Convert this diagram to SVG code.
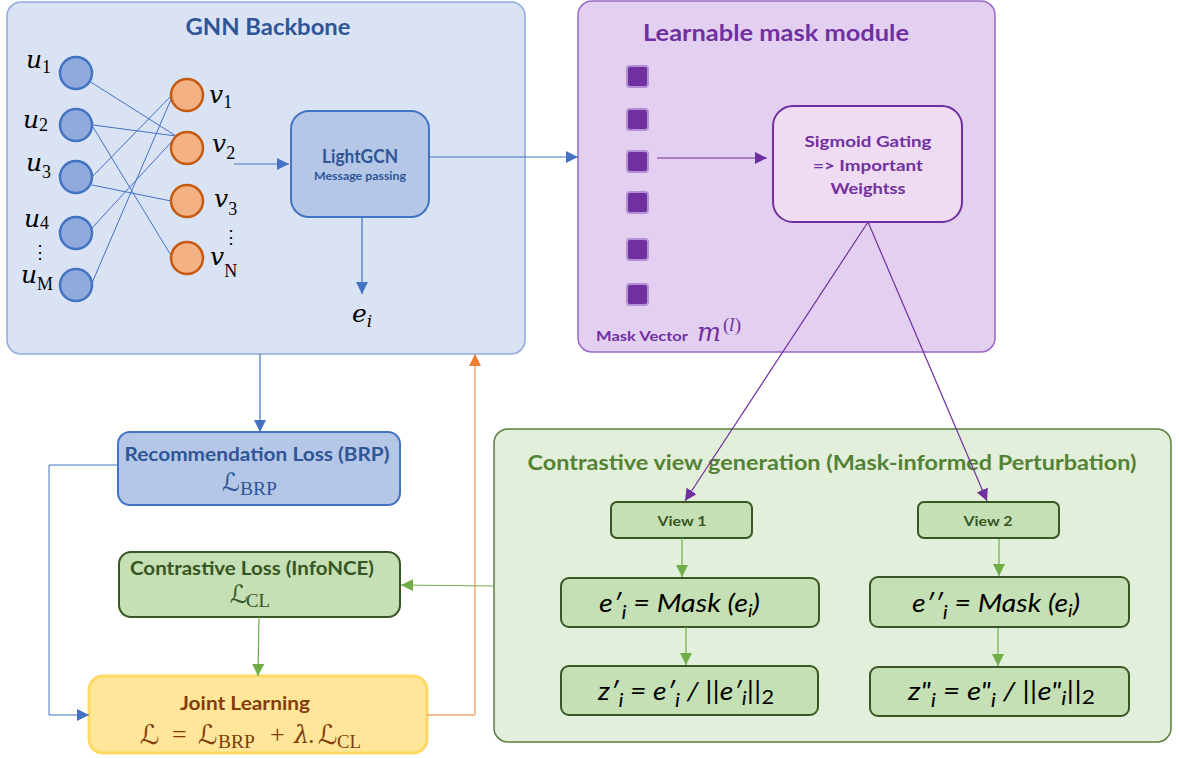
<svg xmlns="http://www.w3.org/2000/svg" width="1179" height="758" viewBox="0 0 1179 758">
<style>
.t{font-family:Lato,"Open Sans",sans-serif;font-weight:bold}
.m{font-family:"DejaVu Serif",serif;font-style:italic}
.up{font-family:"Liberation Serif",serif;font-style:normal}
.L{font-family:"DejaVu Serif","DejaVu Sans",serif}
.fm{font-family:Lato,"Open Sans",sans-serif;font-style:italic;font-size:26px;fill:#000}
.u{fill:#8faadc;stroke:#4472c4;stroke-width:2.5}
.v{fill:#f4b183;stroke:#c55a11;stroke-width:2.5}
.sq{fill:#7030a0;stroke:#b48fd8;stroke-width:2}
.gb{fill:#c5e0b4;stroke:#385723;stroke-width:2}
.e{fill:none;stroke:#4472c4;stroke-width:1}
</style>
<defs>
<marker id="ab" markerUnits="userSpaceOnUse" markerWidth="13" markerHeight="12" refX="12" refY="6" orient="auto"><path d="M0,0 L12,6 L0,12 z" fill="#4472c4"/></marker>
<marker id="ap" markerUnits="userSpaceOnUse" markerWidth="13" markerHeight="12" refX="12" refY="6" orient="auto"><path d="M0,0 L12,6 L0,12 z" fill="#7030a0"/></marker>
<marker id="ag" markerUnits="userSpaceOnUse" markerWidth="13" markerHeight="12" refX="12" refY="6" orient="auto"><path d="M0,0 L12,6 L0,12 z" fill="#70ad47"/></marker>
<marker id="ao" markerUnits="userSpaceOnUse" markerWidth="13" markerHeight="12" refX="12" refY="6" orient="auto"><path d="M0,0 L12,6 L0,12 z" fill="#ed7d31"/></marker>
</defs>

<g id="gnn-backbone">
<rect x="7" y="2" width="518" height="352" rx="14" fill="#dae3f3" stroke="#8faadc" stroke-width="1.5"/>
<text class="t" x="268" y="35" text-anchor="middle" font-size="22" fill="#2f5597" textLength="165" lengthAdjust="spacingAndGlyphs">GNN Backbone</text>
</g>

<g id="bipartite-edges">
<line class="e" x1="86" y1="79" x2="176" y2="136"/>
<line class="e" x1="93" y1="125" x2="176" y2="136"/>
<line class="e" x1="93" y1="127" x2="172" y2="257"/>
<line class="e" x1="92" y1="177" x2="172" y2="95"/>
<line class="e" x1="92" y1="185" x2="171" y2="201"/>
<line class="e" x1="92" y1="228" x2="176" y2="137"/>
<line class="e" x1="92" y1="283" x2="172" y2="97"/>
</g>

<g id="user-nodes">
<circle class="u" cx="76" cy="73" r="16"/>
<circle class="u" cx="76" cy="125" r="16"/>
<circle class="u" cx="76" cy="177" r="16"/>
<circle class="u" cx="76" cy="233" r="16"/>
<circle class="u" cx="76" cy="285" r="16"/>
<text class="m" x="26" y="68" font-size="25">u<tspan class="up" font-size="18" dy="5">1</tspan></text>
<text class="m" x="23" y="128" font-size="25">u<tspan class="up" font-size="18" dy="3">2</tspan></text>
<text class="m" x="26" y="171" font-size="25">u<tspan class="up" font-size="18" dy="7">3</tspan></text>
<text class="m" x="24" y="227" font-size="25">u<tspan class="up" font-size="18" dy="2">4</tspan></text>
<text class="up" x="31" y="258" font-size="18">⋮</text>
<text class="m" x="21" y="283" font-size="25">u<tspan class="up" font-size="18" dy="7">M</tspan></text>
</g>

<g id="item-nodes">
<circle class="v" cx="187" cy="95" r="16"/>
<circle class="v" cx="187" cy="148" r="16"/>
<circle class="v" cx="187" cy="201" r="16"/>
<circle class="v" cx="187" cy="258" r="16"/>
<text class="m" x="209" y="103" font-size="25">v<tspan class="up" font-size="18" dy="5">1</tspan></text>
<text class="m" x="212" y="152" font-size="25">v<tspan class="up" font-size="18" dy="7">2</tspan></text>
<text class="m" x="214" y="207" font-size="25">v<tspan class="up" font-size="18" dy="8">3</tspan></text>
<text class="up" x="222" y="243" font-size="18">⋮</text>
<text class="m" x="210" y="265" font-size="25">v<tspan class="up" font-size="18" dy="12">N</tspan></text>
</g>

<g id="lightgcn">
<rect x="291" y="111" width="138" height="106" rx="18" fill="#b4c7e7" stroke="#4472c4" stroke-width="2"/>
<text class="t" x="360" y="163" text-anchor="middle" font-size="18" fill="#2f5597" textLength="76" lengthAdjust="spacingAndGlyphs">LightGCN</text>
<text class="t" x="360" y="180" text-anchor="middle" font-size="11" fill="#2f5597" textLength="92" lengthAdjust="spacingAndGlyphs">Message passing</text>
</g>

<g id="embedding-ei">
<text class="m" x="352" y="322" font-size="25">e<tspan class="m" font-size="17" dy="5">i</tspan></text>
</g>

<g id="learnable-mask-module">
<rect x="578" y="1" width="417" height="351" rx="14" fill="#e3d0f1" stroke="#9a68c8" stroke-width="1.5"/>
<text class="t" x="776" y="41" text-anchor="middle" font-size="23" fill="#7030a0" textLength="266" lengthAdjust="spacingAndGlyphs">Learnable mask module</text>
<rect class="sq" x="627" y="66" width="21" height="21" rx="3"/>
<rect class="sq" x="627" y="109" width="21" height="21" rx="3"/>
<rect class="sq" x="627" y="151" width="21" height="21" rx="3"/>
<rect class="sq" x="627" y="192" width="21" height="21" rx="3"/>
<rect class="sq" x="627" y="239" width="21" height="21" rx="3"/>
<rect class="sq" x="627" y="284" width="21" height="21" rx="3"/>
<text class="t" x="596" y="341" font-size="14" fill="#7030a0" textLength="92" lengthAdjust="spacingAndGlyphs">Mask Vector</text>
<text class="m" x="697" y="341" font-size="26" fill="#7030a0" textLength="24" lengthAdjust="spacingAndGlyphs">m</text>
<text class="up" x="723" y="331" font-size="19" fill="#7030a0">(<tspan class="m" font-size="17">l</tspan>)</text>
</g>

<g id="sigmoid-gating">
<rect x="773" y="106" width="189" height="116" rx="20" fill="#efdcf3" stroke="#7030a0" stroke-width="2"/>
<text class="t" x="868" y="147" text-anchor="middle" font-size="16" fill="#7030a0" textLength="127" lengthAdjust="spacingAndGlyphs">Sigmoid Gating</text>
<text class="t" x="868" y="171" text-anchor="middle" font-size="16" fill="#7030a0" textLength="110" lengthAdjust="spacingAndGlyphs">=&gt; Important</text>
<text class="t" x="868" y="194" text-anchor="middle" font-size="16" fill="#7030a0" textLength="75" lengthAdjust="spacingAndGlyphs">Weightss</text>
</g>

<g id="rec-loss">
<rect x="118" y="432" width="282" height="73" rx="12" fill="#b4c7e7" stroke="#4472c4" stroke-width="2"/>
<text class="t" x="257" y="461" text-anchor="middle" font-size="18" fill="#2f5597" textLength="265" lengthAdjust="spacingAndGlyphs">Recommendation Loss (BRP)</text>
<text class="L" x="222" y="491" font-size="25" fill="#2f5597">ℒ</text>
<text class="up" x="240" y="495" font-size="19" fill="#2f5597" textLength="37" lengthAdjust="spacingAndGlyphs">BRP</text>
</g>

<g id="cl-loss">
<rect x="119" y="552" width="281" height="65" rx="12" fill="#c5e0b4" stroke="#385723" stroke-width="2"/>
<text class="t" x="252" y="575" text-anchor="middle" font-size="18" fill="#375623" textLength="244" lengthAdjust="spacingAndGlyphs">Contrastive Loss (InfoNCE)</text>
<text class="L" x="230" y="603" font-size="25" fill="#375623">ℒ</text>
<text class="up" x="246" y="607" font-size="19" fill="#375623" textLength="24" lengthAdjust="spacingAndGlyphs">CL</text>
</g>

<g id="joint-learning">
<rect x="89" y="676" width="338" height="77" rx="14" fill="#ffe699" stroke="#ffd966" stroke-width="3"/>
<text class="t" x="245" y="710" text-anchor="middle" font-size="18" fill="#843c0c" textLength="130" lengthAdjust="spacingAndGlyphs">Joint Learning</text>
<g fill="#843c0c">
<text class="L" x="140" y="744" font-size="27">ℒ</text>
<text class="up" x="172" y="743" font-size="26">=</text>
<text class="L" x="198" y="744" font-size="27">ℒ</text>
<text class="up" x="218" y="748" font-size="19" textLength="37" lengthAdjust="spacingAndGlyphs">BRP</text>
<text class="up" x="270" y="743" font-size="26">+</text>
<text class="m" x="294" y="743" font-size="24">λ</text>
<text class="up" x="308" y="743" font-size="26">.</text>
<text class="L" x="318" y="744" font-size="27">ℒ</text>
<text class="up" x="337" y="748" font-size="19" textLength="24" lengthAdjust="spacingAndGlyphs">CL</text>
</g>
</g>

<g id="contrastive-view-generation">
<rect x="494" y="429" width="677" height="313" rx="14" fill="#e2efda" stroke="#5b7f3f" stroke-width="1.5"/>
<text class="t" x="832" y="470" text-anchor="middle" font-size="20" fill="#548235" textLength="609" lengthAdjust="spacingAndGlyphs">Contrastive view generation (Mask-informed Perturbation)</text>
</g>

<g id="view-1">
<rect class="gb" x="611" y="502" width="141" height="36" rx="6"/>
<text class="t" x="682" y="526" text-anchor="middle" font-size="14" fill="#375623" textLength="49" lengthAdjust="spacingAndGlyphs">View 1</text>
</g>
<g id="view-2">
<rect class="gb" x="918" y="502" width="141" height="36" rx="6"/>
<text class="t" x="988" y="526" text-anchor="middle" font-size="14" fill="#375623" textLength="49" lengthAdjust="spacingAndGlyphs">View 2</text>
</g>
<g id="mask-view-1">
<rect class="gb" x="561" y="578" width="258" height="49" rx="8"/>
<text class="fm" x="599" y="612" textLength="161" lengthAdjust="spacingAndGlyphs">e′<tspan font-size="20" dy="7">i</tspan><tspan dy="-7"> = Mask (e</tspan><tspan font-size="18" dy="5">i</tspan><tspan dy="-5">)</tspan></text>
</g>
<g id="mask-view-2">
<rect class="gb" x="870" y="577" width="259" height="50" rx="8"/>
<text class="fm" x="912" y="612" textLength="168" lengthAdjust="spacingAndGlyphs">e′′<tspan font-size="20" dy="7">i</tspan><tspan dy="-7"> = Mask (e</tspan><tspan font-size="18" dy="5">i</tspan><tspan dy="-5">)</tspan></text>
</g>
<g id="norm-view-1">
<rect class="gb" x="561" y="666" width="257" height="49" rx="8"/>
<text class="fm" x="598" y="700" textLength="176" lengthAdjust="spacingAndGlyphs">z′<tspan font-size="20" dy="7">i</tspan><tspan dy="-7"> = e′</tspan><tspan font-size="20" dy="7">i</tspan><tspan dy="-7"> / ||e′</tspan><tspan font-size="20" dy="5">i</tspan><tspan dy="-5">||</tspan><tspan font-style="normal" font-size="20" dy="4">2</tspan></text>
</g>
<g id="norm-view-2">
<rect class="gb" x="870" y="667" width="259" height="49" rx="8"/>
<text class="fm" x="908" y="700" textLength="187" lengthAdjust="spacingAndGlyphs">z"<tspan font-size="20" dy="7">i</tspan><tspan dy="-7"> = e"</tspan><tspan font-size="20" dy="7">i</tspan><tspan dy="-7"> / ||e"</tspan><tspan font-size="20" dy="5">i</tspan><tspan dy="-5">||</tspan><tspan font-style="normal" font-size="20" dy="4">2</tspan></text>
</g>

<g id="connectors" fill="none">
<line x1="234" y1="164" x2="289" y2="164" stroke="#4472c4" stroke-width="1.2" marker-end="url(#ab)"/>
<line x1="362" y1="217" x2="362" y2="294" stroke="#4472c4" stroke-width="1.2" marker-end="url(#ab)"/>
<line x1="429" y1="157" x2="578" y2="157" stroke="#4472c4" stroke-width="1" marker-end="url(#ab)"/>
<line x1="657" y1="158" x2="767" y2="158" stroke="#7030a0" stroke-width="1.2" marker-end="url(#ap)"/>
<line x1="868" y1="222" x2="685" y2="501" stroke="#7030a0" stroke-width="1.2" marker-end="url(#ap)"/>
<line x1="868" y1="222" x2="987" y2="501" stroke="#7030a0" stroke-width="1.2" marker-end="url(#ap)"/>
<line x1="260" y1="354" x2="260" y2="432" stroke="#4472c4" stroke-width="1.2" marker-end="url(#ab)"/>
<polyline points="118,465 49,465 49,715 89,715" stroke="#4472c4" stroke-width="1" marker-end="url(#ab)"/>
<line x1="259" y1="617" x2="258" y2="676" stroke="#70ad47" stroke-width="1.2" marker-end="url(#ag)"/>
<line x1="494" y1="586" x2="401" y2="585" stroke="#70ad47" stroke-width="1.2" marker-end="url(#ag)"/>
<polyline points="427,715 475,715 475,354" stroke="#ed7d31" stroke-width="1" marker-end="url(#ao)"/>
<line x1="682" y1="538" x2="682" y2="577" stroke="#70ad47" stroke-width="1.2" marker-end="url(#ag)"/>
<line x1="686" y1="627" x2="686" y2="665" stroke="#70ad47" stroke-width="1.2" marker-end="url(#ag)"/>
<line x1="999" y1="539" x2="999" y2="576" stroke="#70ad47" stroke-width="1.2" marker-end="url(#ag)"/>
<line x1="998" y1="628" x2="998" y2="666" stroke="#70ad47" stroke-width="1.2" marker-end="url(#ag)"/>
</g>
</svg>
